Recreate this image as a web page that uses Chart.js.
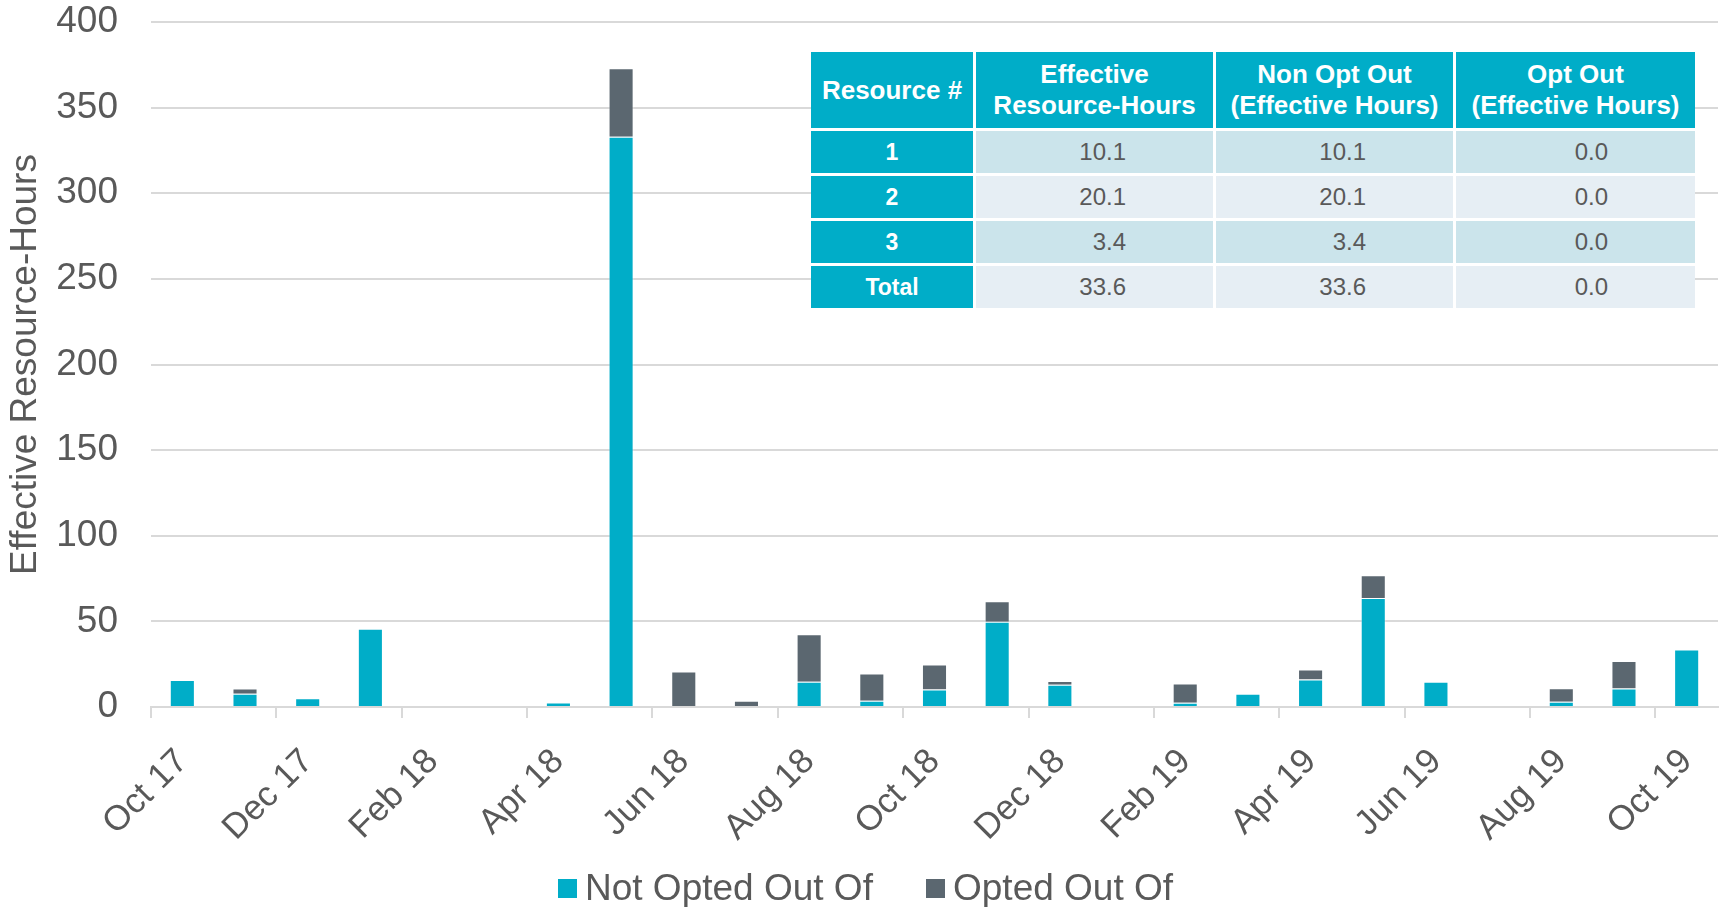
<!DOCTYPE html>
<html>
<head>
<meta charset="utf-8">
<title>Effective Resource-Hours</title>
<script src="https://cdn.jsdelivr.net/npm/chart.js@4.4.1/dist/chart.umd.min.js"></script>
<style>
  html, body { margin: 0; padding: 0; background: #ffffff; }
  #wrap { position: relative; width: 1723px; height: 907px; overflow: hidden;
          font-family: 'Liberation Sans', Arial, sans-serif; }
  #chart { position: absolute; left: 0; top: 0; }
  #summary { position: absolute; left: 811px; top: 52px; display: grid;
             grid-template-columns: 162px 237px 237px 239px;
             grid-template-rows: 76px 42px 42px 42px 42px;
             gap: 3px; background: #ffffff; }
  #summary div { display: flex; align-items: center; box-sizing: border-box; }
  #summary .head { background: #00adc8; color: #ffffff; font-weight: bold; font-size: 26px;
                   line-height: 31px; justify-content: center; text-align: center; }
  #summary .rowhead { background: #00adc8; color: #ffffff; font-weight: bold; font-size: 23px;
                      justify-content: center; }
  #summary .cell { color: #595959; font-size: 24px; justify-content: flex-end; padding-right: 87px; }
  #summary .odd { background: #cbe4eb; }
  #summary .even { background: #e6eef4; }
  #legend { position: absolute; left: 0; top: 868px; width: 1723px; height: 40px; }
  .item { position: absolute; top: 0; height: 40px; font-size: 37px; color: #595959; line-height: 40px; white-space: nowrap; }
  .swatch { position: absolute; top: 11px; width: 19px; height: 19px; }
</style>
</head>
<body>
<div id="wrap">
  <canvas id="chart" width="1723" height="907"></canvas>
  <div id="summary"></div>
  <div id="legend"></div>
</div>
<script>
// Monthly categories, Oct 2017 through Oct 2019
const months = ['Oct 17','Nov 17','Dec 17','Jan 18','Feb 18','Mar 18','Apr 18','May 18','Jun 18',
                'Jul 18','Aug 18','Sep 18','Oct 18','Nov 18','Dec 18','Jan 19','Feb 19','Mar 19',
                'Apr 19','May 19','Jun 19','Jul 19','Aug 19','Sep 19','Oct 19'];

// Effective resource-hours per month
const notOptedOut = [15.7, 7.8, 5.1, 45.7, 0, 0, 2.7, 333, 0, 0, 14.8, 3.7, 10.2, 49.8, 13,
                     0, 2.5, 7.8, 16, 63.7, 14.7, 0, 3.1, 10.8, 33.6];
const optedOut    = [0, 3, 0, 0, 0, 0, 0, 40, 20.8, 3.7, 27.7, 15.8, 14.6, 12, 2.2,
                     0, 11.2, 0, 5.9, 13.2, 0, 0, 7.8, 16.1, 0];

const seriesNames = ['Not Opted Out Of', 'Opted Out Of'];
const yTicks = [0, 50, 100, 150, 200, 250, 300, 350, 400];

// Summary table
const tableHeaders = ['Resource #', 'Effective<br>Resource-Hours', 'Non Opt Out<br>(Effective Hours)', 'Opt Out<br>(Effective Hours)'];
const resourceIds    = ['1', '2', '3', 'Total'];
const effectiveHours = ['10.1', '20.1', '3.4', '33.6'];
const nonOptOutHours = ['10.1', '20.1', '3.4', '33.6'];
const optOutHours    = ['0.0', '0.0', '0.0', '0.0'];

const TEAL = '#00adc8';
const SLATE = '#5b6770';
const GRID = '#d9d9d9';
const TEXT = '#595959';
const FONT = "'Liberation Sans', Arial, sans-serif";

// build the summary table
(function () {
  const t = document.getElementById('summary');
  let html = tableHeaders.map(h => '<div class="head">' + h + '</div>').join('');
  resourceIds.forEach((id, i) => {
    const shade = i % 2 === 0 ? 'odd' : 'even';
    html += '<div class="rowhead">' + id + '</div>';
    [effectiveHours[i], nonOptOutHours[i], optOutHours[i]].forEach(v => {
      html += '<div class="cell ' + shade + '">' + v + '</div>';
    });
  });
  t.innerHTML = html;
})();

// legend below the plot
(function () {
  const lg = document.getElementById('legend');
  const items = [
    { name: seriesNames[0], color: TEAL, x: 558 },
    { name: seriesNames[1], color: SLATE, x: 926 }
  ];
  items.forEach(it => {
    const d = document.createElement('div');
    d.className = 'item';
    d.style.left = it.x + 'px';
    d.innerHTML = '<span class="swatch" style="left:0;background:' + it.color + '"></span>' +
                  '<span style="margin-left:27px">' + it.name + '</span>';
    lg.appendChild(d);
  });
})();

Chart.defaults.font.family = FONT;
Chart.defaults.color = TEXT;

new Chart(document.getElementById('chart'), {
  type: 'bar',
  data: {
    labels: months,
    datasets: [
      { label: seriesNames[0], data: notOptedOut, backgroundColor: TEAL,
        borderColor: 'rgba(255,255,255,0.4)', borderWidth: 1,
        barPercentage: 0.4, categoryPercentage: 1.0 },
      { label: seriesNames[1], data: optedOut, backgroundColor: SLATE,
        borderColor: 'rgba(255,255,255,0.4)', borderWidth: 1,
        barPercentage: 0.4, categoryPercentage: 1.0 }
    ]
  },
  options: {
    responsive: false,
    animation: false,
    layout: { padding: { top: 22, left: 0, right: 5, bottom: 0 } },
    plugins: { legend: { display: false }, tooltip: { enabled: false } },
    scales: {
      x: {
        stacked: true,
        grid: {
          offset: true,
          drawOnChartArea: false,
          drawTicks: true,
          tickLength: 11,
          lineWidth: 2,
          color: c => (c.index % 2 === 0 ? GRID : 'rgba(0,0,0,0)')
        },
        border: { color: GRID, width: 2 },
        ticks: {
          autoSkip: false,
          minRotation: 45,
          maxRotation: 45,
          padding: 23,
          color: TEXT,
          font: { size: 35 },
          callback: (v, i) => (i % 2 === 0 ? months[i] : '')
        },
        afterFit: s => { s.height = 200; s.paddingLeft = 0; s.paddingRight = 0; }
      },
      y: {
        stacked: true,
        min: 0,
        max: 400,
        afterBuildTicks: s => { s.ticks = yTicks.map(v => ({ value: v })); },
        grid: { color: GRID, lineWidth: 2, drawTicks: false },
        border: { display: false },
        ticks: { padding: 33, color: TEXT, font: { size: 37 } },
        title: { display: true, text: 'Effective Resource-Hours', color: TEXT,
                 font: { size: 37 }, padding: { top: 4, bottom: 4 } },
        afterFit: s => { s.width = 151; s.paddingTop = 0; s.paddingBottom = 0; }
      }
    }
  }
});
</script>
</body>
</html>
